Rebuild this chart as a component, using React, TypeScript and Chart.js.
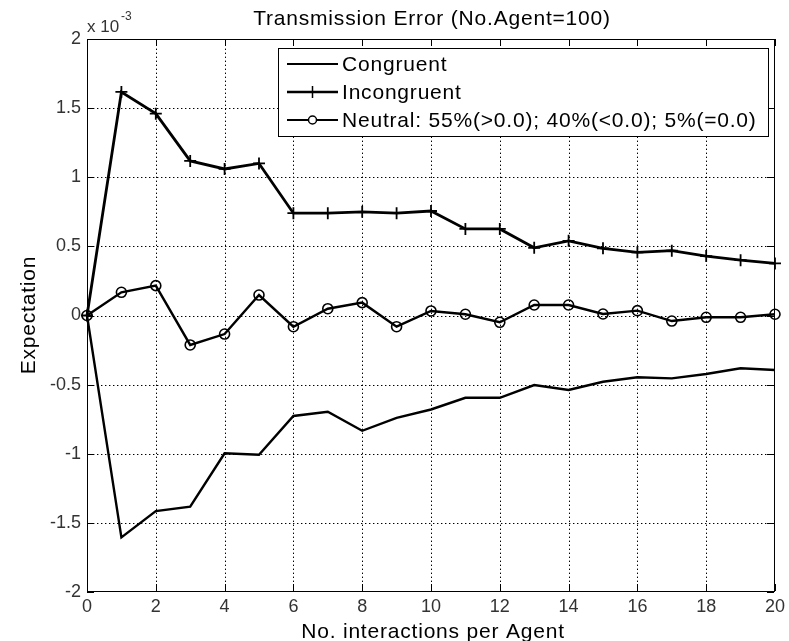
import React, { useEffect, useRef } from 'react';
import { Chart, registerables } from 'chart.js';

Chart.register(...registerables);

// Values are in units of 10^-3
const xValues = [0, 1, 2, 3, 4, 5, 6, 7, 8, 9, 10, 11, 12, 13, 14, 15, 16, 17, 18, 19, 20];
const congruent = [0, -1.605, -1.415, -1.383, -0.997, -1.007, -0.727, -0.696, -0.834, -0.74, -0.68, -0.595, -0.595, -0.503, -0.539, -0.479, -0.447, -0.455, -0.423, -0.382, -0.394];
const incongruent = [0, 1.617, 1.46, 1.118, 1.06, 1.1, 0.74, 0.74, 0.75, 0.74, 0.756, 0.626, 0.626, 0.49, 0.54, 0.486, 0.457, 0.469, 0.43, 0.4, 0.377];
const neutral = [0, 0.168, 0.216, -0.213, -0.134, 0.148, -0.081, 0.049, 0.093, -0.081, 0.033, 0.009, -0.049, 0.076, 0.076, 0.011, 0.035, -0.04, -0.013, -0.013, 0.009];

const xTicks = [0, 2, 4, 6, 8, 10, 12, 14, 16, 18, 20];
const yTicks = [-2, -1.5, -1, -0.5, 0, 0.5, 1, 1.5, 2];

const seriesNames = ['Congruent', 'Incongruent', 'Neutral: 55%(>0.0); 40%(<0.0); 5%(=0.0)'];
const titleText = 'Transmission Error (No.Agent=100)';
const xLabel = 'No. interactions per Agent';
const yLabel = 'Expectation';

const FONT = '"Liberation Sans", Arial, Helvetica, sans-serif';

const toPoints = (ys: number[]) => ys.map((y, i) => ({ x: xValues[i], y }));

function drawGrid(chart: any) {
  const ctx: CanvasRenderingContext2D = chart.ctx;
  const area = chart.chartArea;
  const left = area.left, right = area.right, top = area.top, bottom = area.bottom;
  const xs = chart.scales.x;
  const ys = chart.scales.y;
  ctx.save();
  ctx.strokeStyle = '#000000';
  ctx.lineWidth = 1;
  ctx.setLineDash([1.4, 2.6]);
  ctx.beginPath();
  for (const v of xTicks) {
    const px = Math.round(xs.getPixelForValue(v)) + 0.5;
    if (v === 0 || v === 20) continue;
    ctx.moveTo(px, bottom - 2);
    ctx.lineTo(px, top + 1);
  }
  for (const v of yTicks) {
    const py = Math.round(ys.getPixelForValue(v)) + 0.5;
    if (v === -2 || v === 2) continue;
    ctx.moveTo(left + 2, py);
    ctx.lineTo(right - 1, py);
  }
  ctx.stroke();
  ctx.restore();
}

const gridPlugin = {
  id: 'dottedGrid',
  beforeDatasetsDraw(chart: any) {
    drawGrid(chart);
  },
};

const decorPlugin = {
  id: 'decor',
  afterDraw(chart: any) {
    const ctx: CanvasRenderingContext2D = chart.ctx;
    const { left, right, top, bottom } = chart.chartArea;
    const xs = chart.scales.x;
    const ys = chart.scales.y;
    ctx.save();
    ctx.strokeStyle = '#000';
    ctx.lineWidth = 1;
    ctx.setLineDash([]);
    ctx.strokeRect(left + 0.5, top + 0.5, right - left - 1, bottom - top - 1);
    const tl = 7;
    ctx.beginPath();
    xTicks.forEach((v) => {
      const px = Math.round(xs.getPixelForValue(v)) + 0.5;
      ctx.moveTo(px, bottom - 1);
      ctx.lineTo(px, bottom - 1 - tl);
      ctx.moveTo(px, top);
      ctx.lineTo(px, top + tl);
    });
    yTicks.forEach((v) => {
      const py = Math.round(ys.getPixelForValue(v)) + 0.5;
      ctx.moveTo(left, py);
      ctx.lineTo(left + tl, py);
      ctx.moveTo(right - 1, py);
      ctx.lineTo(right - 1 - tl, py);
    });
    ctx.stroke();

    (ctx as any).letterSpacing = '0.8px';
    ctx.fillStyle = '#000';
    ctx.font = `21px ${FONT}`;
    ctx.textAlign = 'center';
    ctx.textBaseline = 'alphabetic';
    ctx.fillText(titleText, 432, 25);
    ctx.fillText(xLabel, 433, 638);
    ctx.save();
    ctx.translate(29, 315);
    ctx.rotate(-Math.PI / 2);
    ctx.textBaseline = 'middle';
    ctx.fillText(yLabel, 0, 0);
    ctx.restore();

    (ctx as any).letterSpacing = '0px';
    ctx.fillStyle = '#333';
    ctx.textAlign = 'left';
    ctx.font = `17px ${FONT}`;
    ctx.fillText('x 10', 87, 32);
    ctx.font = `12px ${FONT}`;
    ctx.fillText('-3', 121, 20);

    const bx = 278, by = 48, bw = 491, bh = 89;
    ctx.fillStyle = '#fff';
    ctx.fillRect(bx, by, bw, bh);
    ctx.strokeStyle = '#000';
    ctx.lineWidth = 1;
    ctx.strokeRect(bx + 0.5, by + 0.5, bw - 1, bh - 1);
    const rows = [64, 92, 120];
    const widths = [2.2, 2.6, 2.2];
    rows.forEach((ry, i) => {
      ctx.strokeStyle = '#000';
      ctx.lineWidth = widths[i];
      ctx.beginPath();
      ctx.moveTo(287, ry);
      ctx.lineTo(338, ry);
      ctx.stroke();
      ctx.lineWidth = 1.5;
      if (i === 1) {
        ctx.beginPath();
        ctx.moveTo(312.5, ry - 6);
        ctx.lineTo(312.5, ry + 6);
        ctx.stroke();
      } else if (i === 2) {
        ctx.beginPath();
        ctx.arc(312.5, ry, 4, 0, Math.PI * 2);
        ctx.fillStyle = '#fff';
        ctx.fill();
        ctx.stroke();
      }
      (ctx as any).letterSpacing = '0.8px';
      ctx.fillStyle = '#000';
      ctx.font = `21px ${FONT}`;
      ctx.textAlign = 'left';
      ctx.textBaseline = 'middle';
      ctx.fillText(seriesNames[i], 342, ry + 1);
    });
    ctx.restore();
  },
};

export default function App() {
  const ref = useRef<HTMLCanvasElement | null>(null);
  useEffect(() => {
    if (!ref.current) return;
    const chart = new Chart(ref.current, {
      type: 'line',
      data: {
        datasets: [
          { label: seriesNames[0], data: toPoints(congruent), borderColor: '#000', backgroundColor: '#000', borderWidth: 2.4, pointRadius: 0, tension: 0, clip: 12 },
          { label: seriesNames[1], data: toPoints(incongruent), borderColor: '#000', backgroundColor: '#000', borderWidth: 2.8, pointStyle: 'cross', pointRadius: 6, pointBorderWidth: 1.8, pointBorderColor: '#000', tension: 0, clip: 12 },
          { label: seriesNames[2], data: toPoints(neutral), borderColor: '#000', backgroundColor: 'rgba(0,0,0,0)', borderWidth: 2.4, pointStyle: 'circle', pointRadius: 5, pointBorderWidth: 1.6, pointBorderColor: '#000', pointBackgroundColor: 'rgba(255,255,255,0)', tension: 0, clip: 12 },
        ],
      },
      options: {
        responsive: false,
        animation: false,
        devicePixelRatio: 1,
        layout: { padding: { left: 0, right: 10, top: 39, bottom: 0 } },
        plugins: { legend: { display: false }, title: { display: false }, tooltip: { enabled: false } },
        scales: {
          x: {
            type: 'linear', min: 0, max: 20,
            afterBuildTicks: (scale: any) => { scale.ticks = xTicks.map((v) => ({ value: v })); },
            afterFit: (scale: any) => { scale.height = 49; },
            grid: { display: false, drawTicks: false },
            border: { display: false },
            ticks: { padding: 4, color: '#333', font: { family: FONT, size: 18 }, maxRotation: 0, autoSkip: false, callback: (v: any) => String(v) },
          },
          y: {
            type: 'linear', min: -2, max: 2,
            afterBuildTicks: (scale: any) => { scale.ticks = yTicks.map((v) => ({ value: v })); },
            afterFit: (scale: any) => { scale.width = 87; },
            grid: { display: false, drawTicks: false },
            border: { display: false },
            ticks: { padding: 6, color: '#333', font: { family: FONT, size: 18 }, autoSkip: false, callback: (v: any) => String(v) },
          },
        },
      },
      plugins: [gridPlugin, decorPlugin],
    } as any);
    return () => chart.destroy();
  }, []);
  return (
    <div style={{ position: 'absolute', left: 0, top: 0, width: 789, height: 641, background: '#fff' }}>
      <canvas ref={ref} width={789} height={641} style={{ display: 'block' }} />
    </div>
  );
}
